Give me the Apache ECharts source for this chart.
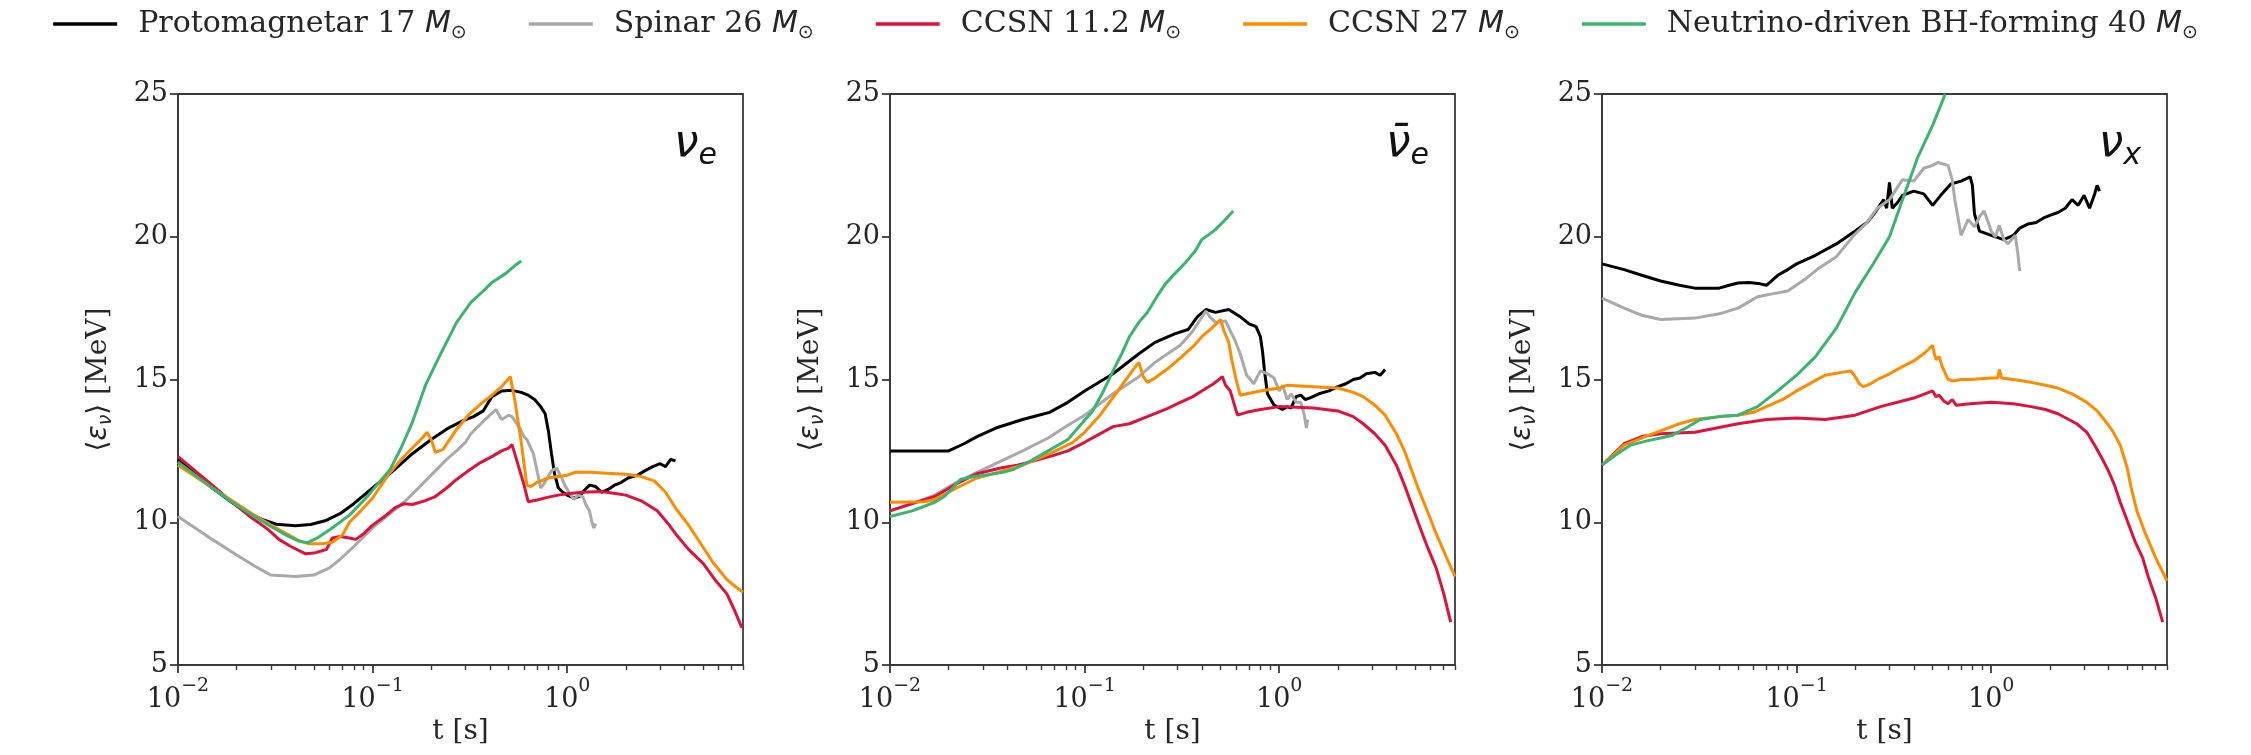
<!DOCTYPE html>
<html><head><meta charset="utf-8">
<script src="https://cdn.jsdelivr.net/npm/echarts@6/dist/echarts.min.js"></script>
<style>html,body{margin:0;padding:0;background:#fff}#c{width:2251px;height:755px}</style>
</head><body><div id="c"></div>
<script>
// ---------------- data (t [s], <eps> [MeV]) ----------------
const seriesNames = ['Protomagnetar 17 M☉', 'Spinar 26 M☉', 'CCSN 11.2 M☉', 'CCSN 27 M☉', 'Neutrino-driven BH-forming 40 M☉'];
const xTickValues = [0.01, 0.1, 1];
const yTickValues = [5, 10, 15, 20, 25];

// panel 1: nu_e
const nueProto = [[0.01,12.2],[0.012,11.75],[0.015,11.2],[0.018,10.8],[0.022,10.4],[0.027,10.1],[0.032,9.93],[0.04,9.88],[0.048,9.92],[0.057,10.05],[0.068,10.3],[0.08,10.65],[0.1,11.2],[0.13,11.85],[0.16,12.4],[0.2,12.9],[0.245,13.3],[0.29,13.55],[0.33,13.7],[0.37,13.9],[0.41,14.4],[0.46,14.6],[0.52,14.62],[0.58,14.55],[0.63,14.45],[0.68,14.3],[0.73,14.05],[0.77,13.8],[0.8,13.2],[0.83,12.4],[0.86,11.7],[0.9,11.2],[0.95,11.05],[1.0,10.95],[1.08,10.85],[1.15,10.9],[1.22,11.1],[1.3,11.3],[1.4,11.25],[1.5,11.05],[1.62,11.15],[1.75,11.3],[1.9,11.4],[2.05,11.55],[2.3,11.65],[2.5,11.8],[2.75,11.95],[3.0,12.05],[3.2,11.95],[3.4,12.2],[3.6,12.15]];
const nueSpinar = [[0.01,10.2],[0.015,9.4],[0.02,8.85],[0.025,8.45],[0.03,8.15],[0.04,8.1],[0.05,8.15],[0.06,8.4],[0.068,8.7],[0.08,9.15],[0.1,9.8],[0.12,10.25],[0.145,10.7],[0.175,11.25],[0.21,11.8],[0.24,12.2],[0.27,12.5],[0.3,12.8],[0.32,13.1],[0.36,13.45],[0.4,13.75],[0.43,13.95],[0.46,13.6],[0.5,13.75],[0.52,13.7],[0.57,13.3],[0.6,13.0],[0.62,12.9],[0.65,12.6],[0.67,12.4],[0.7,11.8],[0.73,11.2],[0.76,11.35],[0.79,11.55],[0.83,11.8],[0.88,11.9],[0.93,11.6],[0.97,11.3],[1.02,11.05],[1.08,10.8],[1.14,10.95],[1.2,10.9],[1.25,10.6],[1.3,10.4],[1.34,10.0],[1.37,9.8],[1.4,9.95]];
const nueRed = [[0.01,12.3],[0.012,11.85],[0.015,11.3],[0.019,10.7],[0.024,10.15],[0.029,9.75],[0.033,9.4],[0.038,9.15],[0.045,8.9],[0.05,8.92],[0.055,9.0],[0.058,9.05],[0.062,9.45],[0.068,9.5],[0.076,9.45],[0.082,9.4],[0.09,9.6],[0.1,9.9],[0.115,10.2],[0.13,10.5],[0.145,10.65],[0.16,10.62],[0.185,10.75],[0.21,10.9],[0.24,11.2],[0.27,11.5],[0.31,11.8],[0.36,12.1],[0.41,12.3],[0.46,12.5],[0.5,12.6],[0.52,12.72],[0.535,12.45],[0.6,11.3],[0.63,10.72],[0.7,10.78],[0.8,10.88],[0.9,10.95],[1.0,11.0],[1.2,11.05],[1.5,11.08],[1.8,11.0],[2.0,10.95],[2.4,10.75],[2.9,10.4],[3.3,9.95],[3.6,9.6],[4.2,9.05],[5.0,8.55],[5.8,7.95],[6.6,7.5],[7.2,6.95],[7.9,6.3]];
const nueOrange = [[0.01,12.0],[0.012,11.65],[0.015,11.2],[0.019,10.75],[0.024,10.3],[0.03,9.9],[0.036,9.6],[0.042,9.35],[0.047,9.25],[0.055,9.25],[0.062,9.3],[0.07,9.55],[0.076,10.0],[0.087,10.4],[0.1,10.85],[0.12,11.65],[0.14,12.2],[0.16,12.6],[0.18,12.95],[0.19,13.15],[0.2,12.9],[0.21,12.45],[0.23,12.55],[0.27,13.25],[0.31,13.75],[0.36,14.15],[0.41,14.45],[0.46,14.75],[0.51,15.1],[0.54,14.2],[0.58,12.8],[0.62,11.3],[0.65,11.25],[0.7,11.4],[0.8,11.55],[1.0,11.65],[1.1,11.75],[1.33,11.75],[1.6,11.72],[2.0,11.68],[2.4,11.6],[2.8,11.45],[3.2,11.05],[3.6,10.5],[4.2,9.9],[4.8,9.3],[5.6,8.6],[6.6,8.0],[7.3,7.75],[8.0,7.55]];
const nueGreen = [[0.01,12.1],[0.012,11.7],[0.015,11.2],[0.019,10.7],[0.024,10.25],[0.03,9.85],[0.036,9.55],[0.042,9.33],[0.046,9.28],[0.052,9.45],[0.062,9.8],[0.076,10.25],[0.094,10.9],[0.105,11.3],[0.123,11.85],[0.14,12.6],[0.16,13.5],[0.187,14.8],[0.22,15.8],[0.27,17.0],[0.32,17.7],[0.37,18.1],[0.41,18.4],[0.48,18.7],[0.54,19.0],[0.58,19.15]];

// panel 2: anti nu_e
const nuebarProto = [[0.01,12.5],[0.02,12.5],[0.024,12.75],[0.028,13.0],[0.035,13.3],[0.048,13.6],[0.058,13.75],[0.066,13.85],[0.082,14.2],[0.1,14.6],[0.14,15.2],[0.19,15.9],[0.23,16.3],[0.29,16.6],[0.34,16.75],[0.38,17.2],[0.42,17.45],[0.47,17.35],[0.55,17.45],[0.63,17.2],[0.7,16.95],[0.76,16.85],[0.8,16.5],[0.82,16.0],[0.84,15.3],[0.87,14.5],[0.94,14.1],[1.04,13.95],[1.1,14.05],[1.15,14.0],[1.22,14.4],[1.29,14.45],[1.36,14.3],[1.43,14.35],[1.6,14.5],[1.8,14.6],[2.0,14.75],[2.2,14.85],[2.4,15.0],[2.6,15.05],[2.8,15.2],[3.1,15.25],[3.3,15.15],[3.5,15.35]];
const nuebarSpinar = [[0.01,10.4],[0.013,10.65],[0.017,10.95],[0.022,11.4],[0.028,11.75],[0.036,12.1],[0.048,12.5],[0.065,12.95],[0.082,13.4],[0.1,13.75],[0.14,14.5],[0.19,15.1],[0.23,15.6],[0.31,16.2],[0.36,16.7],[0.42,17.4],[0.44,17.2],[0.47,17.0],[0.53,17.05],[0.56,16.7],[0.59,16.4],[0.63,15.9],[0.68,15.15],[0.74,14.85],[0.8,15.3],[0.87,15.2],[0.94,15.05],[1.0,14.6],[1.04,14.8],[1.1,14.3],[1.15,14.5],[1.22,14.2],[1.29,14.2],[1.34,13.8],[1.38,13.3],[1.4,13.6]];
const nuebarRed = [[0.01,10.4],[0.013,10.65],[0.017,10.9],[0.022,11.35],[0.028,11.7],[0.037,11.9],[0.045,12.0],[0.055,12.15],[0.07,12.35],[0.082,12.5],[0.1,12.8],[0.14,13.35],[0.17,13.45],[0.21,13.7],[0.26,13.95],[0.31,14.2],[0.36,14.4],[0.4,14.6],[0.46,14.85],[0.51,15.1],[0.53,14.8],[0.56,14.6],[0.61,13.75],[0.68,13.85],[0.8,13.95],[1.0,14.05],[1.5,14.0],[2.0,13.9],[2.4,13.7],[2.7,13.45],[3.1,13.1],[3.5,12.7],[4.0,12.0],[4.4,11.3],[4.8,10.6],[5.2,9.95],[5.8,9.1],[6.4,8.4],[7.0,7.5],[7.6,6.5]];
const nuebarOrange = [[0.01,10.7],[0.015,10.72],[0.017,10.8],[0.022,11.2],[0.028,11.55],[0.036,11.75],[0.048,12.0],[0.066,12.4],[0.087,12.8],[0.1,13.15],[0.12,13.75],[0.15,14.65],[0.18,15.4],[0.19,15.6],[0.2,15.1],[0.21,14.9],[0.23,15.05],[0.27,15.4],[0.31,15.75],[0.36,16.15],[0.4,16.5],[0.45,16.8],[0.5,17.1],[0.52,16.7],[0.55,16.3],[0.57,15.7],[0.6,15.0],[0.63,14.45],[0.68,14.5],[0.8,14.6],[1.0,14.7],[1.1,14.8],[1.5,14.75],[2.0,14.7],[2.4,14.55],[2.7,14.4],[3.1,14.1],[3.5,13.75],[4.0,13.1],[4.4,12.5],[4.8,11.8],[5.2,11.15],[5.8,10.35],[6.4,9.6],[7.2,8.8],[8.0,8.1]];
const nuebarGreen = [[0.01,10.2],[0.013,10.4],[0.017,10.7],[0.019,10.9],[0.021,11.2],[0.023,11.5],[0.027,11.6],[0.031,11.65],[0.038,11.75],[0.043,11.85],[0.053,12.15],[0.065,12.5],[0.082,12.9],[0.095,13.4],[0.11,13.9],[0.125,14.6],[0.14,15.3],[0.155,15.9],[0.17,16.5],[0.19,17.0],[0.21,17.35],[0.235,17.9],[0.26,18.35],[0.29,18.7],[0.33,19.1],[0.37,19.5],[0.4,19.9],[0.44,20.1],[0.47,20.25],[0.52,20.55],[0.58,20.9]];

// panel 3: nu_x
const nuxProto = [[0.01,19.05],[0.013,18.85],[0.016,18.65],[0.02,18.45],[0.025,18.3],[0.03,18.2],[0.04,18.2],[0.045,18.3],[0.05,18.38],[0.057,18.4],[0.065,18.35],[0.07,18.3],[0.08,18.65],[0.09,18.85],[0.1,19.05],[0.125,19.35],[0.16,19.75],[0.2,20.2],[0.23,20.5],[0.25,20.8],[0.28,21.3],[0.29,21.0],[0.3,21.9],[0.31,21.0],[0.33,21.2],[0.35,21.45],[0.4,21.6],[0.45,21.5],[0.5,21.1],[0.55,21.45],[0.62,21.85],[0.7,21.95],[0.78,22.1],[0.8,21.8],[0.82,20.8],[0.87,20.2],[1.0,20.05],[1.16,19.9],[1.3,20.05],[1.4,20.3],[1.55,20.45],[1.7,20.5],[1.85,20.65],[2.0,20.75],[2.2,20.85],[2.4,21.0],[2.6,21.3],[2.8,21.1],[3.0,21.45],[3.2,21.0],[3.4,21.5],[3.5,21.8],[3.6,21.6]];
const nuxSpinar = [[0.01,17.85],[0.013,17.5],[0.016,17.25],[0.02,17.1],[0.03,17.15],[0.04,17.3],[0.05,17.5],[0.063,17.9],[0.075,18.0],[0.09,18.1],[0.11,18.5],[0.13,18.9],[0.16,19.3],[0.2,20.1],[0.23,20.5],[0.26,21.0],[0.3,21.3],[0.32,21.6],[0.35,22.0],[0.4,21.95],[0.45,22.4],[0.5,22.5],[0.53,22.6],[0.6,22.5],[0.63,22.0],[0.65,21.3],[0.7,20.05],[0.76,20.6],[0.82,20.35],[0.87,20.7],[0.92,20.9],[1.0,20.2],[1.05,20.0],[1.1,20.4],[1.16,19.9],[1.22,19.75],[1.33,20.05],[1.37,19.4],[1.4,18.8]];
const nuxRed = [[0.01,12.0],[0.013,12.75],[0.016,13.0],[0.02,13.1],[0.03,13.15],[0.05,13.45],[0.07,13.6],[0.1,13.65],[0.14,13.6],[0.2,13.75],[0.27,14.05],[0.4,14.35],[0.5,14.6],[0.52,14.4],[0.54,14.45],[0.57,14.25],[0.6,14.15],[0.63,14.3],[0.66,14.1],[0.78,14.15],[1.0,14.2],[1.3,14.15],[1.6,14.05],[1.9,13.95],[2.2,13.8],[2.75,13.45],[3.1,13.15],[3.4,12.7],[3.7,12.25],[4.0,11.8],[4.3,11.3],[4.6,10.7],[5.0,10.05],[5.5,9.3],[6.0,8.75],[6.4,8.1],[7.0,7.35],[7.6,6.5]];
const nuxOrange = [[0.01,12.0],[0.013,12.7],[0.016,12.95],[0.02,13.2],[0.025,13.45],[0.03,13.6],[0.04,13.7],[0.05,13.75],[0.06,13.85],[0.07,14.05],[0.085,14.3],[0.1,14.6],[0.12,14.9],[0.14,15.15],[0.17,15.25],[0.19,15.3],[0.2,15.1],[0.21,14.85],[0.22,14.75],[0.24,14.85],[0.26,15.0],[0.3,15.2],[0.35,15.45],[0.4,15.65],[0.45,15.9],[0.5,16.2],[0.51,15.9],[0.52,15.7],[0.54,15.8],[0.56,15.45],[0.6,15.0],[0.64,14.95],[0.7,15.0],[0.78,15.0],[1.0,15.05],[1.08,15.05],[1.1,15.35],[1.13,15.05],[1.3,15.0],[1.6,14.9],[1.9,14.8],[2.2,14.7],[2.6,14.5],[3.1,14.2],[3.5,13.9],[3.8,13.6],[4.2,13.2],[4.6,12.7],[5.0,11.9],[5.2,11.3],[5.6,10.4],[6.2,9.6],[7.0,8.75],[8.0,7.95]];
const nuxGreen = [[0.01,12.0],[0.012,12.4],[0.014,12.7],[0.017,12.85],[0.02,12.95],[0.023,13.05],[0.027,13.3],[0.032,13.6],[0.04,13.7],[0.05,13.75],[0.063,14.05],[0.08,14.6],[0.1,15.15],[0.125,15.8],[0.16,16.8],[0.2,18.05],[0.25,19.1],[0.3,20.0],[0.35,21.3],[0.42,22.8],[0.5,23.9],[0.55,24.6],[0.58,25.0]];

const panelData = [
  [nueProto, nueSpinar, nueRed, nueOrange, nueGreen],
  [nuebarProto, nuebarSpinar, nuebarRed, nuebarOrange, nuebarGreen],
  [nuxProto, nuxSpinar, nuxRed, nuxOrange, nuxGreen]
];

// ---------------- styling ----------------
const colors = ['#000000', '#a9a9a9', '#dc143c', '#ff8c00', '#3cb371'];
const X_MIN = 0.01, X_MAX = 8;
const GL = [178, 890, 1602], GT = 94, GW = 565, GH = 571;
const SERIF = "'DejaVu Serif', serif";
const SANS = "'DejaVu Sans', sans-serif";
const AX = '#3a3a3a', TXT = '#262626';

const minorTicks = [];
[0.01, 0.1, 1].forEach(d => { for (let k = 2; k <= 9; k++) { const v = +(d * k).toPrecision(6); if (v <= X_MAX + 1e-9) minorTicks.push(v); } });

const grid = [], xAxis = [], yAxis = [], series = [], graphic = [];
for (let p = 0; p < 3; p++) {
  grid.push({ left: GL[p], top: GT, width: GW, height: GH, show: true, borderColor: AX, borderWidth: 1.8, backgroundColor: 'transparent', containLabel: false });
  xAxis.push({
    type: 'log', logBase: 10, gridIndex: p, min: X_MIN, max: X_MAX, position: 'bottom',
    name: 't [s]', nameLocation: 'middle', nameGap: 50,
    nameTextStyle: { fontFamily: SERIF, fontSize: 28, color: TXT },
    axisLine: { show: true, onZero: false, lineStyle: { color: AX, width: 1.8 } },
    axisTick: { show: true, inside: false, length: 8, lineStyle: { color: AX, width: 1.8 }, customValues: xTickValues },
    axisLabel: {
      show: true, margin: 12, customValues: xTickValues,
      formatter: v => { const e = Math.round(Math.log10(v)); return '{b|10}{s|' + (e < 0 ? '−' + (-e) : e) + '}'; },
      rich: {
        b: { fontFamily: SERIF, fontSize: 27, color: TXT, lineHeight: 36, verticalAlign: 'bottom' },
        s: { fontFamily: SERIF, fontSize: 19, color: TXT, lineHeight: 36, verticalAlign: 'top' }
      }
    },
    splitLine: { show: false }
  });
  xAxis.push({
    type: 'log', logBase: 10, gridIndex: p, min: X_MIN, max: X_MAX, position: 'bottom', offset: 0,
    axisLine: { show: false, onZero: false }, axisLabel: { show: false }, splitLine: { show: false },
    axisTick: { show: true, inside: false, length: 5, lineStyle: { color: AX, width: 1.4 }, customValues: minorTicks }
  });
  yAxis.push({
    type: 'value', gridIndex: p, min: 5, max: 25, interval: 5,
    name: '{a|⟨}{e|ε}{v|ν}{a|⟩ [MeV]}', nameLocation: 'middle', nameGap: 62, nameRotate: 90,
    nameTextStyle: {
      rich: {
        a: { fontFamily: SERIF, fontSize: 28, color: TXT, lineHeight: 34 },
        e: { fontFamily: SANS, fontStyle: 'italic', fontSize: 28, color: TXT, lineHeight: 34 },
        v: { fontFamily: SANS, fontStyle: 'italic', fontSize: 19, color: TXT, lineHeight: 34, verticalAlign: 'bottom' }
      }
    },
    axisLine: { show: true, onZero: false, lineStyle: { color: AX, width: 1.8 } },
    axisTick: { show: true, inside: false, length: 8, lineStyle: { color: AX, width: 1.8 } },
    axisLabel: { fontFamily: SERIF, fontSize: 27, color: TXT, margin: 10 },
    splitLine: { show: false }
  });
  for (let s = 0; s < 5; s++) {
    series.push({
      name: seriesNames[s], type: 'line', xAxisIndex: 2 * p, yAxisIndex: p,
      data: panelData[p][s], showSymbol: false, symbol: 'none', smooth: false,
      lineStyle: { color: colors[s], width: 3 }, itemStyle: { color: colors[s] },
      z: 2 + s, silent: true, animation: false
    });
  }
}

// panel labels
const labelRich = {
  n: { fontFamily: SANS, fontStyle: 'italic', fontSize: 44, fill: '#111', lineHeight: 52, verticalAlign: 'middle' },
  e: { fontFamily: SANS, fontStyle: 'italic', fontSize: 30, fill: '#111', lineHeight: 52, verticalAlign: 'bottom' }
};
const labelTexts = ['{n|ν}{e|e}', '{n|ν̄}{e|e}', '{n|ν}{e|x}'];
for (let p = 0; p < 3; p++) {
  graphic.push({
    type: 'text', x: GL[p] + GW - 26, y: 145, z: 100,
    style: { text: labelTexts[p], align: 'right', verticalAlign: 'middle', rich: labelRich, fill: '#111' }
  });
}

const option = {
  animation: false,
  backgroundColor: '#ffffff',
  legend: {
    show: true, top: 4, left: 'center', itemWidth: 64, itemHeight: 3.5, itemGap: 62, icon: 'rect',
    data: seriesNames,
    formatter: name => '{n|' + name.replace(' M☉', ' ') + '}{m|M}{s|⊙}',
    textStyle: {
      padding: [0, 0, 0, 16],
      rich: {
        n: { fontFamily: SERIF, fontSize: 30, color: TXT, lineHeight: 38 },
        m: { fontFamily: SANS, fontStyle: 'italic', fontSize: 30, color: TXT, lineHeight: 38 },
        s: { fontFamily: SANS, fontSize: 19, color: TXT, lineHeight: 38, verticalAlign: 'bottom' }
      }
    },
    selectedMode: false
  },
  grid, xAxis, yAxis, series, graphic
};

const chart = echarts.init(document.getElementById('c'), null, { renderer: 'canvas', width: 2251, height: 755 });
chart.setOption(option);
</script></body></html>
